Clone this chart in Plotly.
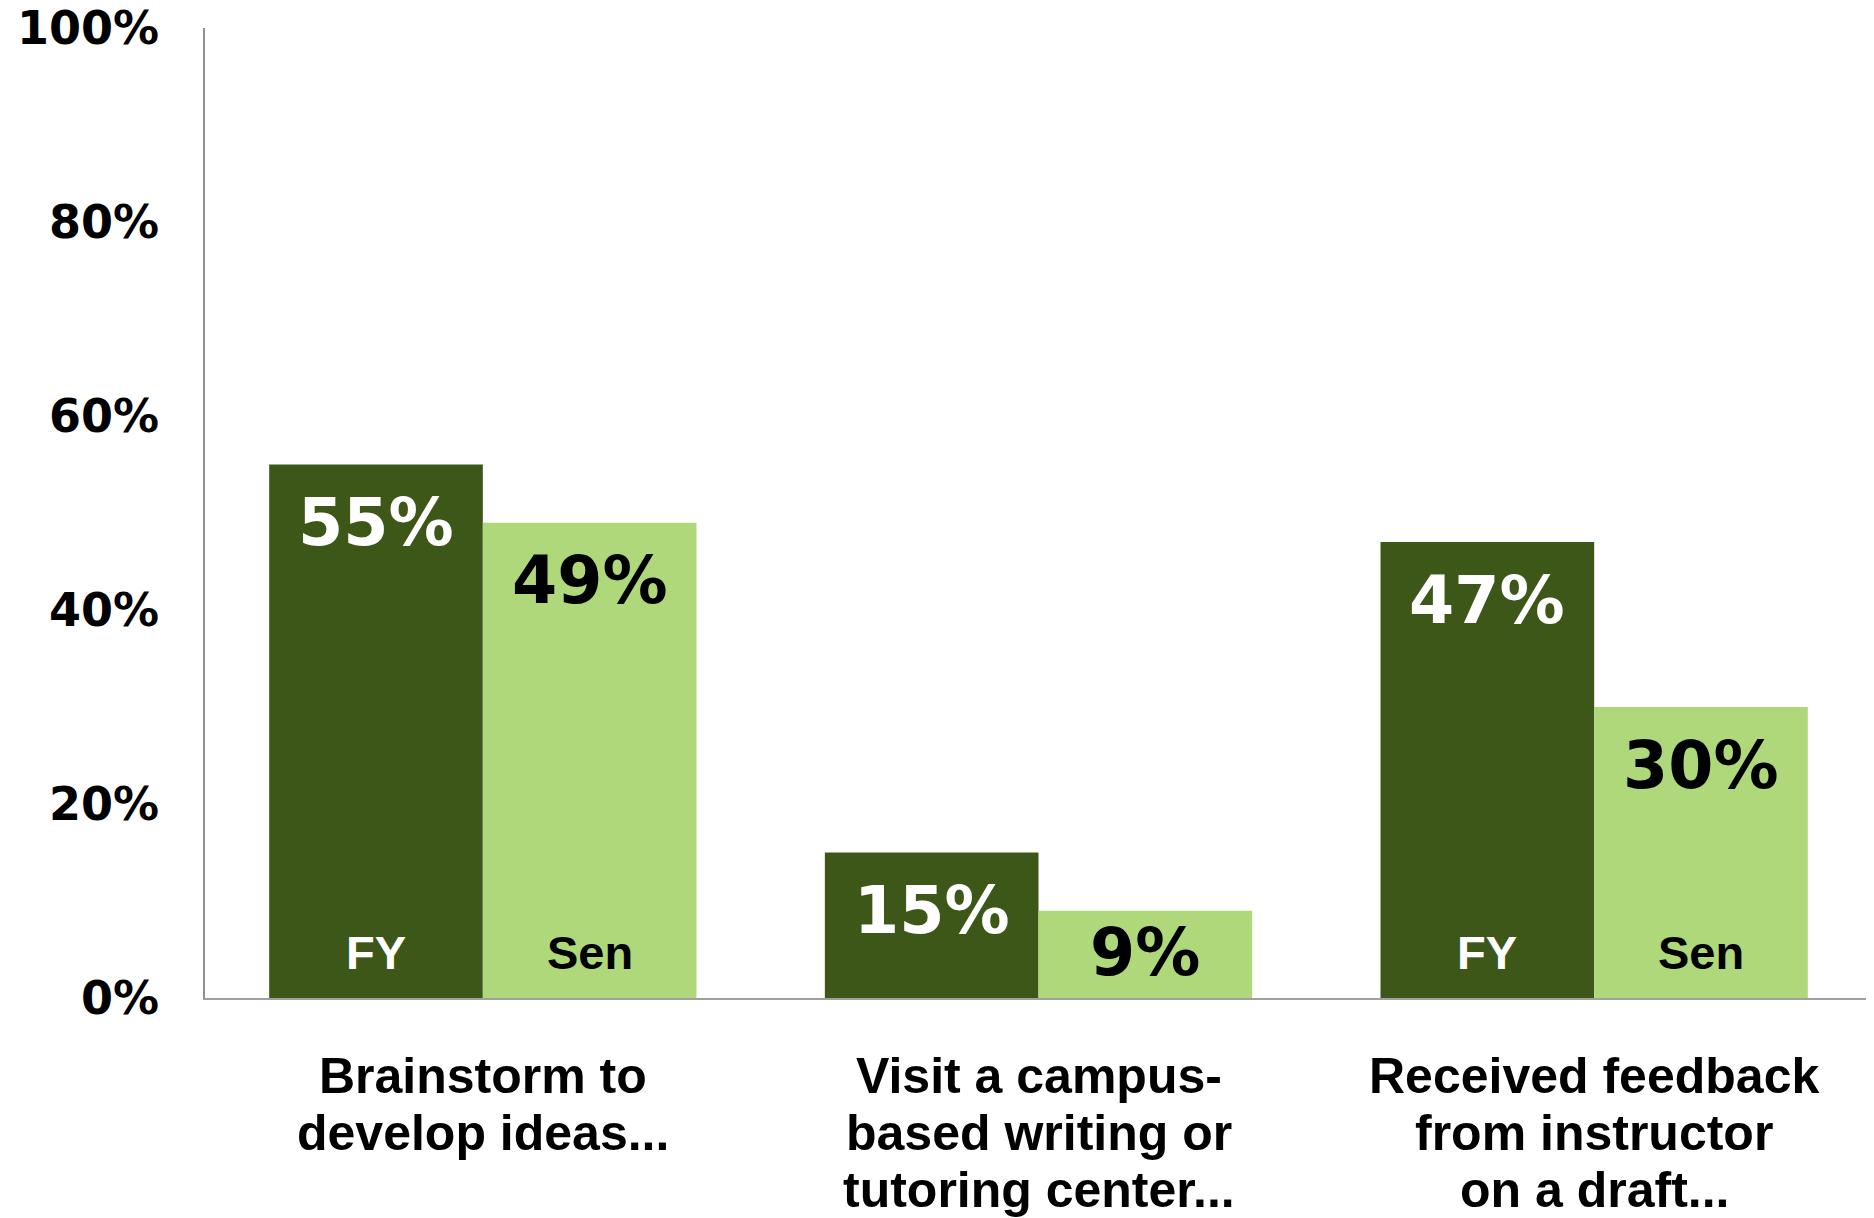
import plotly.graph_objects as go

categories = ["Brainstorm to<br>develop ideas...",
              "Visit a campus-<br>based writing or<br>tutoring center...",
              "Received feedback<br>from instructor<br>on a draft..."]
fy_values = [0.55, 0.15, 0.47]
sen_values = [0.49, 0.09, 0.30]
series_names = ["FY", "Sen"]
show_series_tag = [True, False, True]
y_ticks = [0, 0.2, 0.4, 0.6, 0.8, 1.0]
y_tick_labels = ["0%", "20%", "40%", "60%", "80%", "100%"]

DARK = "#3D5719"
LIGHT = "#AFD87B"
BARGAP = 0.231
VAL_FONT = "DejaVu Sans"
CAT_FONT = "Liberation Sans"

x_idx = list(range(len(categories)))

fig = go.Figure()
fig.add_trace(go.Bar(x=x_idx, y=fy_values, name=series_names[0],
                     marker=dict(color=DARK, line=dict(width=0)), hoverinfo="skip"))
fig.add_trace(go.Bar(x=x_idx, y=sen_values, name=series_names[1],
                     marker=dict(color=LIGHT, line=dict(width=0)), hoverinfo="skip"))

half = (1 - BARGAP) / 4  # offset of each bar centre from the category centre
annotations = []
label_drop = 0.060    # label centre below bar top (in axis units)
label_floor = 0.0474  # lowest label centre
for i in x_idx:
    for s, (vals, col, dx) in enumerate([(fy_values, "white", -half), (sen_values, "black", half)]):
        v = vals[i]
        annotations.append(dict(
            x=i + dx, y=max(v - label_drop, label_floor), xref="x", yref="y",
            text=f"{round(v*100)}%", showarrow=False, yanchor="middle", xanchor="center",
            font=dict(family=VAL_FONT, size=65, color=col, weight="bold")))
        if show_series_tag[i]:
            annotations.append(dict(
                x=i + dx, y=label_floor, xref="x", yref="y",
                text=series_names[s], showarrow=False, yanchor="middle", xanchor="center",
                font=dict(family=CAT_FONT, size=47, color=col, weight="bold")))
    # category labels, one annotation per line
    for j, line in enumerate(categories[i].split("<br>")):
        annotations.append(dict(
            x=i, y=0, xref="x", yref="paper", text=line, showarrow=False,
            yanchor="middle", xanchor="center", yshift=-78 - 57 * j,
            font=dict(family=CAT_FONT, size=50, color="black", weight="bold")))

fig.update_layout(
    width=1866, height=1210,
    margin=dict(l=197, r=2, t=20, b=220, autoexpand=False),
    paper_bgcolor="white", plot_bgcolor="white",
    barmode="group", bargap=BARGAP, bargroupgap=0,
    showlegend=False,
    annotations=annotations,
)
fig.update_xaxes(range=[-0.5, 2.5], showticklabels=False, ticks="", showgrid=False,
                 showline=True, linecolor="#A0A0A0", linewidth=2, zeroline=False,
                 automargin=False)
fig.update_yaxes(range=[0, 1], tickvals=y_ticks, ticktext=y_tick_labels, showgrid=False,
                 showline=True, linecolor="#909090", linewidth=1.5, zeroline=False,
                 ticks="", ticklabelstandoff=35, ticklabeloverflow="allow", automargin=False,
                 tickfont=dict(family=VAL_FONT, size=46, color="black", weight="bold"))

fig.write_html("out.html")
